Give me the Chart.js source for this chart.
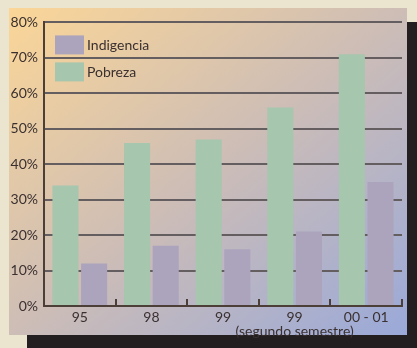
<!DOCTYPE html>
<html>
<head>
<meta charset="utf-8">
<script src="https://cdn.jsdelivr.net/npm/chart.js@4"></script>
<style>
  html, body { margin: 0; padding: 0; background: #ebe4cf; width: 417px; height: 348px; overflow: hidden; }
  #shadow { position: absolute; left: 27px; top: 22px; width: 390px; height: 326px; background: #231f20; }
  #panel {
    position: absolute; left: 9px; top: 8px; width: 398px; height: 327px;
    background: linear-gradient(to bottom right, #fbd697 0%, #cdbdb6 50%, #9aa9d9 100%);
  }
  #chart { position: absolute; left: 9px; top: 8px; }
</style>
</head>
<body>
<div id="shadow"></div>
<div id="panel"></div>
<canvas id="chart" width="398" height="335"></canvas>
<script>
// Pobreza e indigencia, % de la población
const categories = ['95', '98', '99', ['99', '(segundo semestre)'], '00 - 01'];
const pobreza    = [34, 46, 47, 56, 71];
const indigencia = [12, 17, 16, 21, 35];
const yTicks     = [0, 10, 20, 30, 40, 50, 60, 70, 80];

const GREEN  = '#a6c6ad';
const PURPLE = '#aca4bc';
const INK    = '#3a3030';
const AXIS   = '#4b3f38';
const GRID   = '#655e60';
const FONT   = "Lato, 'Liberation Sans', sans-serif";

// small upward tick marks at the right edge of each category
const categoryTicks = {
  id: 'categoryTicks',
  afterDatasetsDraw(chart) {
    const { ctx, scales: { x }, chartArea } = chart;
    const half = (x.getPixelForValue(1) - x.getPixelForValue(0)) / 2;
    ctx.save();
    ctx.strokeStyle = AXIS;
    ctx.lineWidth = 2;
    categories.forEach((_, i) => {
      const px = Math.round(x.getPixelForValue(i) + half);
      ctx.beginPath();
      ctx.moveTo(px, chartArea.bottom);
      ctx.lineTo(px, chartArea.bottom - 7);
      ctx.stroke();
    });
    ctx.restore();
  }
};

// legend sits inside the plot, top-left, Indigencia first
const insideLegend = {
  id: 'insideLegend',
  afterDatasetsDraw(chart) {
    const { ctx, chartArea } = chart;
    const items = chart.data.datasets.slice().reverse();
    ctx.save();
    ctx.font = '14px ' + FONT;
    ctx.textBaseline = 'middle';
    items.forEach((ds, i) => {
      const bx = chartArea.left + 11;
      const by = chartArea.top + 13 + i * 27;
      ctx.fillStyle = ds.backgroundColor;
      ctx.fillRect(bx, by, 29, 19);
      ctx.fillStyle = INK;
      ctx.fillText(ds.label, bx + 32, by + 10);
    });
    ctx.restore();
  }
};

new Chart(document.getElementById('chart'), {
  type: 'bar',
  data: {
    labels: categories,
    datasets: [
      { label: 'Pobreza', data: pobreza, backgroundColor: GREEN },
      { label: 'Indigencia', data: indigencia, backgroundColor: PURPLE }
    ]
  },
  options: {
    responsive: false,
    animation: false,
    categoryPercentage: 0.8,
    barPercentage: 0.91,
    layout: { padding: { top: 10, right: 5, left: 0, bottom: 0 } },
    plugins: { legend: { display: false }, tooltip: { enabled: false } },
    scales: {
      x: {
        grid: { display: false, drawTicks: false },
        border: { color: AXIS, width: 2 },
        ticks: {
          color: INK, font: { family: FONT, size: 14, lineHeight: 1.0 },
          padding: 4, maxRotation: 0, autoSkip: false
        },
        afterFit: s => { s.height = 37; }
      },
      y: {
        min: 0, max: 80,
        afterBuildTicks: s => { s.ticks = yTicks.map(v => ({ value: v })); },
        grid: { color: GRID, lineWidth: 2, drawTicks: false },
        border: { color: AXIS, width: 2 },
        ticks: { color: INK, font: { family: FONT, size: 14 }, padding: 6, callback: v => v + '%' },
        afterFit: s => { s.width = 35; }
      }
    }
  },
  plugins: [categoryTicks, insideLegend]
});
</script>
</body>
</html>
